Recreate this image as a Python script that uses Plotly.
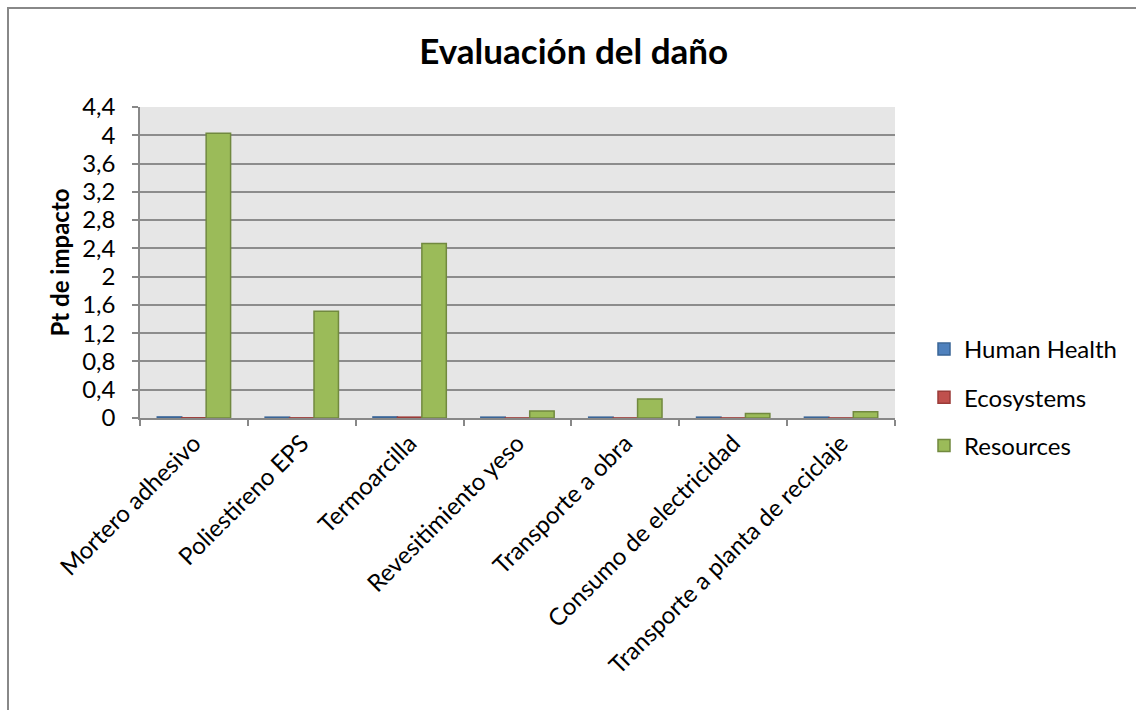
import plotly.graph_objects as go

categories = [
    "Mortero adhesivo",
    "Poliestireno EPS",
    "Termoarcilla",
    "Revesitimiento yeso",
    "Transporte a obra",
    "Consumo de electricidad",
    "Transporte a planta de reciclaje",
]
human_health = [0.015, 0.012, 0.015, 0.012, 0.012, 0.012, 0.012]
ecosystems = [0.003, 0.002, 0.012, 0.001, 0.001, 0.001, 0.001]
resources = [4.03, 1.51, 2.47, 0.10, 0.27, 0.065, 0.09]

y_ticks = [0, 0.4, 0.8, 1.2, 1.6, 2, 2.4, 2.8, 3.2, 3.6, 4, 4.4]

FONT = "Lato, Open Sans, sans-serif"

series = [
    ("Human Health", human_health, "#4f81bd", "#3a6597"),
    ("Ecosystems", ecosystems, "#c0504d", "#9b3b38"),
    ("Resources", resources, "#9bbb59", "#71893f"),
]

fig = go.Figure()
for i, (name, vals, fill, edge) in enumerate(series):
    fig.add_trace(go.Bar(
        x=categories, y=vals, name=name, legendgroup=str(i),
        marker=dict(color=fill, line=dict(color=edge, width=1.5)),
    ))

W, H = 1136, 710
L, R, T, B = 140, 241, 107, 292
pw, ph = W - L - R, H - T - B

fig.update_layout(
    width=W, height=H,
    margin=dict(l=L, r=R, t=T, b=B),
    paper_bgcolor="white",
    plot_bgcolor="#e6e6e6",
    barmode="group",
    bargap=0.32,
    bargroupgap=0,
    separators=",.",
    font=dict(family=FONT, size=24, color="black"),
    title=dict(
        text="<b>Evaluación del daño</b>",
        x=0.505, xanchor="center", y=1 - 52 / H, yanchor="middle",
        font=dict(family=FONT, size=35, color="black"),
    ),
    legend=dict(
        x=(924 - L) / pw, xanchor="left",
        y=(418 - 350 + 23) / ph, yanchor="top",
        font=dict(family=FONT, size=24),
        tracegroupgap=14,
        itemwidth=30,
        bgcolor="rgba(0,0,0,0)",
    ),
    xaxis=dict(
        tickangle=-45,
        tickson="boundaries",
        ticks="outside", ticklen=6, tickcolor="#888888", tickwidth=1.5,
        showline=True, linecolor="#888888", linewidth=1.5,
        showgrid=False,
        tickfont=dict(family=FONT, size=24),
    ),
    yaxis=dict(
        range=[0, 4.4],
        tickvals=y_ticks,
        ticks="outside", ticklen=6, tickcolor="#888888", tickwidth=1.5,
        showline=True, linecolor="#888888", linewidth=1.5,
        showgrid=True, gridcolor="#8c8c8c", gridwidth=1.5,
        zeroline=False,
        ticklabelstandoff=12,
        tickfont=dict(family=FONT, size=24),
        title=dict(text="<b>Pt de impacto</b>", font=dict(family=FONT, size=24), standoff=6),
    ),
    shapes=[dict(
        type="rect", xref="paper", yref="paper",
        x0=(8 - L) / pw, x1=(W + 20 - L) / pw,
        y0=-(H + 20 - (H - B)) / ph, y1=(H - B - 8) / ph,
        line=dict(color="#888888", width=2), fillcolor="rgba(0,0,0,0)",
        layer="below",
    )],
)

fig.write_html("out.html")
